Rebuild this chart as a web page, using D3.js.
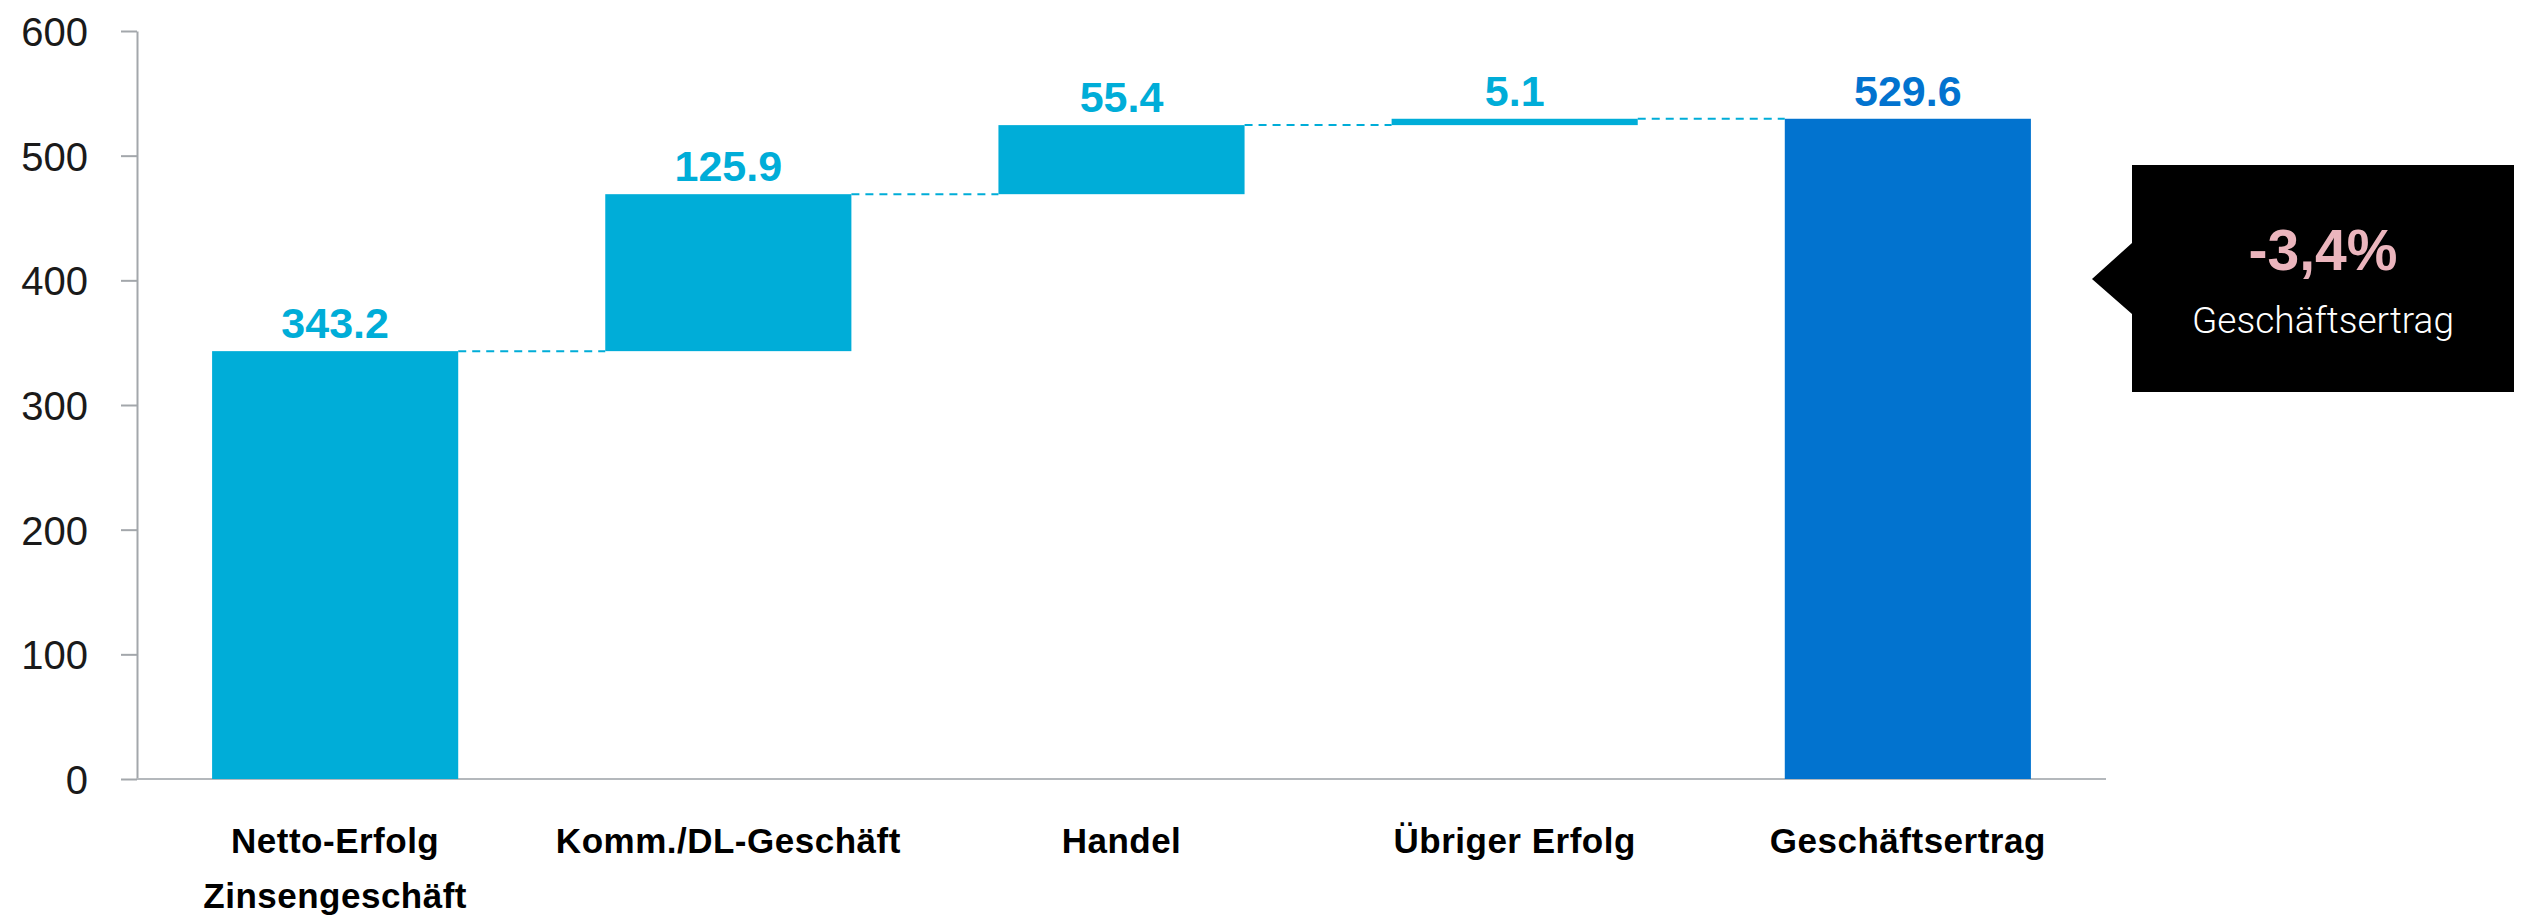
<!DOCTYPE html>
<html>
<head>
<meta charset="utf-8">
<script src="https://cdn.jsdelivr.net/npm/d3@7/dist/d3.min.js"></script>
<style>
  html, body { margin: 0; padding: 0; background: #fff; }
  svg { display: block; }
</style>
</head>
<body>
<svg id="chart" width="2526" height="917"></svg>
<script>
const categories = [["Netto-Erfolg", "Zinsengeschäft"], ["Komm./DL-Geschäft"], ["Handel"], ["Übriger Erfolg"], ["Geschäftsertrag"]];
const values = [343.2, 125.9, 55.4, 5.1, 529.6];
const isTotal = [false, false, false, false, true];
const valueLabels = ["343.2", "125.9", "55.4", "5.1", "529.6"];
const yTicks = [0, 100, 200, 300, 400, 500, 600];
const calloutValue = "-3,4%";
const calloutLabel = "Geschäftsertrag";

const cyan = "#00ADD8";
const blue = "#0273CF";

const svg = d3.select("#chart");
const x0 = 137, x1 = 2106, yBottom = 779, yTop = 31;

const x = d3.scaleBand()
  .domain(d3.range(values.length))
  .range([x0, x1])
  .paddingInner(0.374)
  .paddingOuter(0.191);

const y = d3.scaleLinear().domain([0, 600]).range([yBottom, yTop]);

let running = 0;
const segs = values.map((v, i) => {
  let start, end;
  if (isTotal[i]) { start = 0; end = v; }
  else { start = running; end = running + v; running = end; }
  return { i, start, end, v };
});

const yAxis = d3.axisLeft(y).tickValues(yTicks).tickSize(16).tickPadding(33).tickSizeOuter(0);
const gy = svg.append("g").attr("transform", `translate(${x0},0)`).call(yAxis);
gy.select(".domain").attr("stroke", "#a3a7ab").attr("stroke-width", 2);
gy.selectAll(".tick line").attr("stroke", "#a3a7ab").attr("stroke-width", 2);
gy.selectAll(".tick text")
  .attr("font-family", "Liberation Sans, Arial, sans-serif")
  .attr("font-size", 40)
  .attr("fill", "#1a1a1a")
  .attr("dy", "0.36em");

svg.append("line")
  .attr("x1", x0).attr("x2", x1)
  .attr("y1", y(0)).attr("y2", y(0))
  .attr("stroke", "#b4b8bc").attr("stroke-width", 2);

svg.append("g").selectAll("rect").data(segs).join("rect")
  .attr("x", d => x(d.i))
  .attr("width", x.bandwidth())
  .attr("y", d => y(d.end))
  .attr("height", d => y(d.start) - y(d.end))
  .attr("fill", d => isTotal[d.i] ? blue : cyan);

const conns = segs.slice(0, -1).map(d => ({ from: d.i, to: d.i + 1, level: d.end }));
svg.append("g").selectAll("line").data(conns).join("line")
  .attr("x1", d => x(d.from) + x.bandwidth())
  .attr("x2", d => x(d.to))
  .attr("y1", d => y(d.level))
  .attr("y2", d => y(d.level))
  .attr("stroke", cyan)
  .attr("stroke-width", 2)
  .attr("stroke-dasharray", "8,6");

svg.append("g").selectAll("text").data(segs).join("text")
  .attr("x", d => x(d.i) + x.bandwidth() / 2)
  .attr("y", d => y(d.end) - 13)
  .attr("text-anchor", "middle")
  .attr("font-family", "Liberation Sans, Arial, sans-serif")
  .attr("font-weight", "bold")
  .attr("font-size", 43)
  .attr("fill", d => isTotal[d.i] ? blue : cyan)
  .text(d => valueLabels[d.i]);

const cat = svg.append("g").selectAll("text").data(categories).join("text")
  .attr("x", (d, i) => x(i) + x.bandwidth() / 2)
  .attr("y", 853)
  .attr("text-anchor", "middle")
  .attr("font-family", "Liberation Sans, Arial, sans-serif")
  .attr("font-weight", "bold")
  .attr("font-size", 35)
  .attr("letter-spacing", 0.5)
  .attr("fill", "#000");
cat.selectAll("tspan").data(d => d).join("tspan")
  .attr("x", function() { return d3.select(this.parentNode).attr("x"); })
  .attr("dy", (d, j) => j === 0 ? 0 : 55)
  .text(d => d);

const bx0 = 2132, bx1 = 2514, by0 = 165, by1 = 392, tipX = 2092, tipY = 279, baseTop = 243, baseBot = 314;
svg.append("path")
  .attr("d", `M${bx0},${by0} L${bx1},${by0} L${bx1},${by1} L${bx0},${by1} L${bx0},${baseBot} L${tipX},${tipY} L${bx0},${baseTop} Z`)
  .attr("fill", "#000");
const cx = (bx0 + bx1) / 2;
svg.append("text")
  .attr("x", cx).attr("y", 270)
  .attr("text-anchor", "middle")
  .attr("font-family", "Liberation Sans, Arial, sans-serif")
  .attr("font-weight", "bold")
  .attr("font-size", 57)
  .attr("fill", "#EBB5BD")
  .text(calloutValue);
svg.append("text")
  .attr("x", cx).attr("y", 333)
  .attr("text-anchor", "middle")
  .attr("font-family", "Roboto, sans-serif")
  .attr("font-weight", 300)
  .attr("font-size", 37)
  .attr("fill", "#fff")
  .text(calloutLabel);
</script>
</body>
</html>
